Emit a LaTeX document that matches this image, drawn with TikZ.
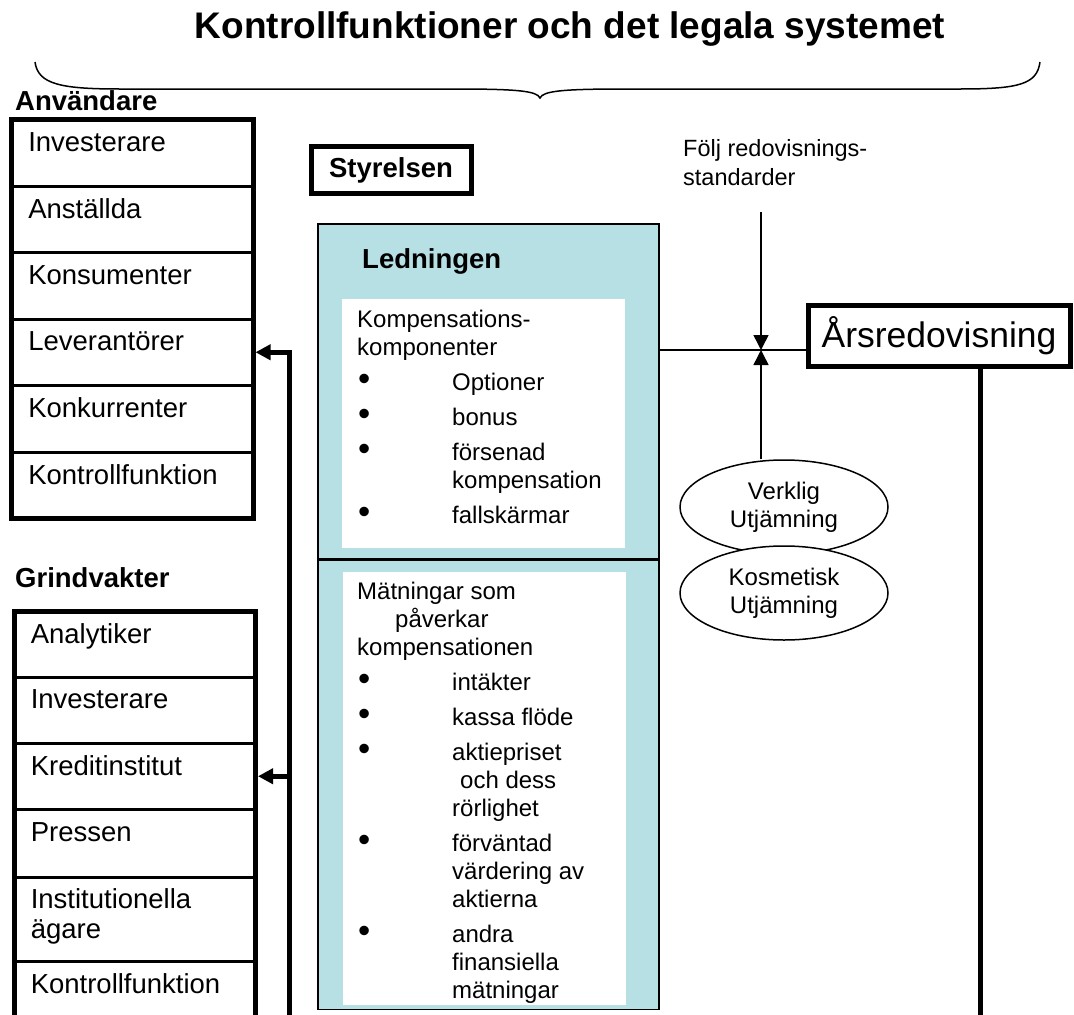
\documentclass[tikz,border=0pt]{standalone}
\usepackage{fontspec}
\setmainfont{Liberation Sans}
\usetikzlibrary{arrows.meta,positioning,shapes.geometric}
\definecolor{ledfill}{RGB}{183,224,228}
\newcommand{\bul}{\makebox[95pt][l]{\hspace{1pt}\raisebox{0.5pt}{\scalebox{1.45}{\textbullet}}}}
\newcommand{\ind}{\hspace*{95pt}}

\begin{document}
\begin{tikzpicture}[
  x=1pt, y=-1pt,
  title/.style={font=\fontsize{37}{40}\selectfont\bfseries},
  head/.style={font=\fontsize{27.5}{31}\selectfont\bfseries, anchor=west, inner sep=0pt},
  row/.style={draw, line width=1.5pt, minimum width=240pt, minimum height=65pt, text width=208pt,
    inner xsep=16pt, inner ysep=0pt, align=left, text depth=22pt, font=\fontsize{27.5}{30}\selectfont},
  frame/.style={line width=5pt},
  bigbox/.style={draw, line width=5pt, inner sep=0pt},
  ledbox/.style={draw, line width=1.5pt, fill=ledfill, minimum width=341pt, inner sep=0pt, anchor=north west},
  whitebox/.style={fill=white, minimum width=283pt, inner sep=0pt, anchor=north west},
  listtxt/.style={anchor=north west, align=left, inner sep=0pt, font=\fontsize{24}{28}\selectfont},
  oval/.style={draw, ellipse, line width=1.5pt, fill=white, minimum width=208pt, minimum height=94pt,
    inner sep=0pt, align=center, font=\fontsize{24}{28}\selectfont},
  arr/.style={-{Triangle[length=15pt,width=15pt]}, line width=1.5pt},
  bigarr/.style={-{Triangle[length=15pt,width=15pt]}, line width=5pt, shorten >=2.5pt}
]
  \useasboundingbox[fill=white] (0,0) rectangle (1074,1015);

  % title and brace
  \node[title] (ttl) at (570,29) {Kontrollfunktioner och det legala systemet};
  \draw[line width=1.5pt] (35,62) .. controls (38,84) and (60,89) .. (120,89) -- (455,89)
    .. controls (518,89) and (537,91) .. (540,98) .. controls (543,91) and (562,89) .. (625,89)
    -- (960,89) .. controls (1020,89) and (1037,84) .. (1040,62);

  % Anvandare
  \node[head] (anv) at (15,101) {Användare};
  \node[row, anchor=north west] (u1) at (11.5,119.5) {Investerare};
  \node[row, below=0pt of u1] (u2) {Anställda};
  \node[row, below=0pt of u2] (u3) {Konsumenter};
  \node[row, below=0pt of u3] (u4) {Leverantörer};
  \node[row, below=0pt of u4] (u5) {Konkurrenter};
  \node[row, below=0pt of u5] (u6) {Kontrollfunktion};
  \draw[frame] (u1.north west) rectangle (u6.south east);

  % Grindvakter
  \node[head] (grind) at (15,578) {Grindvakter};
  \node[row, anchor=north west] (g1) at (14,611) {Analytiker};
  \node[row, below=0pt of g1, minimum height=64pt] (g2) {Investerare};
  \node[row, below=0pt of g2] (g3) {Kreditinstitut};
  \node[row, below=0pt of g3, minimum height=66pt] (g4) {Pressen};
  \node[row, below=0pt of g4, minimum height=83pt, text depth=42pt] (g5) {Institutionella\\ägare};
  \node[row, below=0pt of g5] (g6) {Kontrollfunktion};
  \draw[frame] (g1.north west) rectangle (g6.south east);

  % Styrelsen and Ledningen
  \node[bigbox, minimum width=160pt, minimum height=47pt, font=\fontsize{27.5}{31}\selectfont\bfseries] (styr) at (391,170) {Styrelsen};
  \node[ledbox, minimum height=335pt] (led) at (317,223) {};
  \node[ledbox, minimum height=449pt, below=0pt of led] (ledb) {};
  \node[head] (ledh) at (362,261) {Ledningen};

  \node[whitebox, minimum height=249pt] (kompw) at (342,299) {};
  \node[listtxt] (komp) at (357,310) {Kompensations-\\komponenter\\[7pt]
    \bul Optioner\\[7pt]
    \bul bonus\\[7pt]
    \bul försenad\\\ind kompensation\\[7pt]
    \bul fallskärmar};

  \node[whitebox, minimum height=433pt] (matw) at (343,572) {};
  \begin{scope}
    \clip (matw.north west) rectangle (matw.south east);
    \node[listtxt] (matn) at (357,582) {Mätningar som\\\hspace*{38pt}påverkar\\kompensationen\\[7pt]
      \bul intäkter\\[7pt]
      \bul kassa flöde\\[7pt]
      \bul aktiepriset\\\hspace*{103pt}och dess\\\ind rörlighet\\[7pt]
      \bul förväntad\\\ind värdering av\\\ind aktierna\\[7pt]
      \bul andra\\\ind finansiella\\\ind mätningar};
  \end{scope}

  % Arsredovisning
  \node[bigbox, minimum width=262pt, minimum height=61pt, font=\fontsize{35.5}{40}\selectfont] (ars) at (939,335.5) {Årsredovisning};
  \node[listtxt, font=\fontsize{23.5}{29}\selectfont] (foelj) at (683,139) {Följ redovisnings-\\standarder};
  \coordinate (junc) at (761,350);
  \coordinate (fTop) at (761,212);

  \node[oval] (verk) at (784,507) {Verklig\\Utjämning};
  \node[oval] (kosm) at (784,593) {Kosmetisk\\Utjämning};

  % connectors
  \draw[line width=1.5pt] (led.east |- junc) -- (ars.west |- junc);
  \draw[arr] (fTop) -- (junc);
  \draw[arr] (verk.north -| junc) -- (junc);

  \coordinate (gBot) at (289,1030);
  \draw[bigarr] (gBot) |- (u4.east);
  \draw[bigarr] (gBot |- g3.east) -- (g3.east);

  \coordinate (aBot) at (980,1030);
  \draw[frame] (ars.south -| aBot) -- (aBot);
\end{tikzpicture}
\end{document}
